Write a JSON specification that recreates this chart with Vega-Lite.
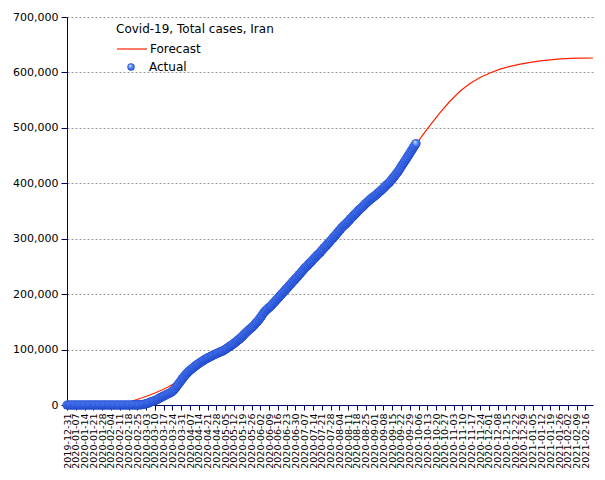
{
"$schema":"https://vega.github.io/schema/vega-lite/v6.json",
"width":526,"height":388,
"autosize":{"type":"none"},
"padding":{"left":67,"top":17,"right":12,"bottom":75},
"background":"white",
"config":{"view":{"stroke":null},"font":"DejaVu Sans"},
"datasets":{
"actual":[
{"d":"2019-12-31","v":0},{"d":"2020-01-01","v":0},{"d":"2020-01-02","v":0},{"d":"2020-01-03","v":0},{"d":"2020-01-04","v":0},{"d":"2020-01-05","v":0},{"d":"2020-01-06","v":0},{"d":"2020-01-07","v":0},{"d":"2020-01-08","v":0},{"d":"2020-01-09","v":0},{"d":"2020-01-10","v":0},{"d":"2020-01-11","v":0},{"d":"2020-01-12","v":0},{"d":"2020-01-13","v":0},{"d":"2020-01-14","v":0},{"d":"2020-01-15","v":0},{"d":"2020-01-16","v":0},{"d":"2020-01-17","v":0},{"d":"2020-01-18","v":0},{"d":"2020-01-19","v":0},{"d":"2020-01-20","v":0},{"d":"2020-01-21","v":0},{"d":"2020-01-22","v":0},{"d":"2020-01-23","v":0},{"d":"2020-01-24","v":0},{"d":"2020-01-25","v":0},{"d":"2020-01-26","v":0},{"d":"2020-01-27","v":0},{"d":"2020-01-28","v":0},{"d":"2020-01-29","v":0},{"d":"2020-01-30","v":0},{"d":"2020-01-31","v":0},
{"d":"2020-02-01","v":0},{"d":"2020-02-02","v":0},{"d":"2020-02-03","v":0},{"d":"2020-02-04","v":0},{"d":"2020-02-05","v":0},{"d":"2020-02-06","v":0},{"d":"2020-02-07","v":0},{"d":"2020-02-08","v":0},{"d":"2020-02-09","v":0},{"d":"2020-02-10","v":0},{"d":"2020-02-11","v":0},{"d":"2020-02-12","v":0},{"d":"2020-02-13","v":0},{"d":"2020-02-14","v":0},{"d":"2020-02-15","v":0},{"d":"2020-02-16","v":0},{"d":"2020-02-17","v":0},{"d":"2020-02-18","v":0},
{"d":"2020-02-19","v":2},{"d":"2020-02-20","v":5},{"d":"2020-02-21","v":18},{"d":"2020-02-22","v":28},{"d":"2020-02-23","v":43},{"d":"2020-02-24","v":61},{"d":"2020-02-25","v":95},{"d":"2020-02-26","v":139},{"d":"2020-02-27","v":245},{"d":"2020-02-28","v":388},{"d":"2020-02-29","v":593},
{"d":"2020-03-01","v":978},{"d":"2020-03-02","v":1501},{"d":"2020-03-03","v":2336},{"d":"2020-03-04","v":2922},{"d":"2020-03-05","v":3513},{"d":"2020-03-06","v":4747},{"d":"2020-03-07","v":5823},{"d":"2020-03-08","v":6566},{"d":"2020-03-09","v":7161},{"d":"2020-03-10","v":8042},{"d":"2020-03-11","v":9000},{"d":"2020-03-12","v":10075},{"d":"2020-03-13","v":11364},{"d":"2020-03-14","v":12729},{"d":"2020-03-15","v":13938},{"d":"2020-03-16","v":14991},{"d":"2020-03-17","v":16169},{"d":"2020-03-18","v":17361},{"d":"2020-03-19","v":18407},{"d":"2020-03-20","v":19644},{"d":"2020-03-21","v":20610},{"d":"2020-03-22","v":21638},{"d":"2020-03-23","v":23049},{"d":"2020-03-24","v":24811},{"d":"2020-03-25","v":27017},{"d":"2020-03-26","v":29406},{"d":"2020-03-27","v":32332},{"d":"2020-03-28","v":35408},{"d":"2020-03-29","v":38309},{"d":"2020-03-30","v":41495},{"d":"2020-03-31","v":44605},
{"d":"2020-04-01","v":47593},{"d":"2020-04-02","v":50468},{"d":"2020-04-03","v":53183},{"d":"2020-04-04","v":55743},{"d":"2020-04-05","v":58226},{"d":"2020-04-06","v":60500},{"d":"2020-04-07","v":62589},{"d":"2020-04-08","v":64586},{"d":"2020-04-09","v":66220},{"d":"2020-04-10","v":68192},{"d":"2020-04-11","v":70029},{"d":"2020-04-12","v":71686},{"d":"2020-04-13","v":73303},{"d":"2020-04-14","v":74877},{"d":"2020-04-15","v":76389},{"d":"2020-04-16","v":77995},{"d":"2020-04-17","v":79494},{"d":"2020-04-18","v":80868},{"d":"2020-04-19","v":82211},{"d":"2020-04-20","v":83505},{"d":"2020-04-21","v":84802},{"d":"2020-04-22","v":85996},{"d":"2020-04-23","v":87026},{"d":"2020-04-24","v":88194},{"d":"2020-04-25","v":89328},{"d":"2020-04-26","v":90481},{"d":"2020-04-27","v":91472},{"d":"2020-04-28","v":92584},{"d":"2020-04-29","v":93657},{"d":"2020-04-30","v":94640},
{"d":"2020-05-01","v":95646},{"d":"2020-05-02","v":96448},{"d":"2020-05-03","v":97424},{"d":"2020-05-04","v":98647},{"d":"2020-05-05","v":99970},{"d":"2020-05-06","v":101650},{"d":"2020-05-07","v":103135},{"d":"2020-05-08","v":104691},{"d":"2020-05-09","v":106220},{"d":"2020-05-10","v":107603},{"d":"2020-05-11","v":109286},{"d":"2020-05-12","v":110767},{"d":"2020-05-13","v":112725},{"d":"2020-05-14","v":114533},{"d":"2020-05-15","v":116635},{"d":"2020-05-16","v":118392},{"d":"2020-05-17","v":120198},{"d":"2020-05-18","v":122492},{"d":"2020-05-19","v":124603},{"d":"2020-05-20","v":126949},{"d":"2020-05-21","v":129341},{"d":"2020-05-22","v":131652},{"d":"2020-05-23","v":133521},{"d":"2020-05-24","v":135701},{"d":"2020-05-25","v":137724},{"d":"2020-05-26","v":139511},{"d":"2020-05-27","v":141591},{"d":"2020-05-28","v":143849},{"d":"2020-05-29","v":146668},{"d":"2020-05-30","v":148950},{"d":"2020-05-31","v":151466},
{"d":"2020-06-01","v":154445},{"d":"2020-06-02","v":157562},{"d":"2020-06-03","v":160696},{"d":"2020-06-04","v":164270},{"d":"2020-06-05","v":167156},{"d":"2020-06-06","v":169425},{"d":"2020-06-07","v":171789},{"d":"2020-06-08","v":173832},{"d":"2020-06-09","v":175927},{"d":"2020-06-10","v":177938},{"d":"2020-06-11","v":180156},{"d":"2020-06-12","v":182525},{"d":"2020-06-13","v":184955},{"d":"2020-06-14","v":187427},{"d":"2020-06-15","v":189876},{"d":"2020-06-16","v":192439},{"d":"2020-06-17","v":195051},{"d":"2020-06-18","v":197647},{"d":"2020-06-19","v":200262},{"d":"2020-06-20","v":202584},{"d":"2020-06-21","v":204952},{"d":"2020-06-22","v":207525},{"d":"2020-06-23","v":209970},{"d":"2020-06-24","v":212501},{"d":"2020-06-25","v":215096},{"d":"2020-06-26","v":217724},{"d":"2020-06-27","v":220180},{"d":"2020-06-28","v":222669},{"d":"2020-06-29","v":225205},{"d":"2020-06-30","v":227662},
{"d":"2020-07-01","v":230211},{"d":"2020-07-02","v":232863},{"d":"2020-07-03","v":235429},{"d":"2020-07-04","v":237878},{"d":"2020-07-05","v":240438},{"d":"2020-07-06","v":243051},{"d":"2020-07-07","v":245688},{"d":"2020-07-08","v":248379},{"d":"2020-07-09","v":250458},{"d":"2020-07-10","v":252720},{"d":"2020-07-11","v":255117},{"d":"2020-07-12","v":257303},{"d":"2020-07-13","v":259652},{"d":"2020-07-14","v":262173},{"d":"2020-07-15","v":264561},{"d":"2020-07-16","v":267061},{"d":"2020-07-17","v":269440},{"d":"2020-07-18","v":271606},{"d":"2020-07-19","v":273788},{"d":"2020-07-20","v":276202},{"d":"2020-07-21","v":278827},{"d":"2020-07-22","v":281413},{"d":"2020-07-23","v":284034},{"d":"2020-07-24","v":286523},{"d":"2020-07-25","v":288839},{"d":"2020-07-26","v":291172},{"d":"2020-07-27","v":293606},{"d":"2020-07-28","v":296273},{"d":"2020-07-29","v":298909},{"d":"2020-07-30","v":301530},{"d":"2020-07-31","v":304204},
{"d":"2020-08-01","v":306752},{"d":"2020-08-02","v":309437},{"d":"2020-08-03","v":312035},{"d":"2020-08-04","v":314786},{"d":"2020-08-05","v":317483},{"d":"2020-08-06","v":320117},{"d":"2020-08-07","v":322567},{"d":"2020-08-08","v":324692},{"d":"2020-08-09","v":326712},{"d":"2020-08-10","v":328844},{"d":"2020-08-11","v":331189},{"d":"2020-08-12","v":333699},{"d":"2020-08-13","v":336324},{"d":"2020-08-14","v":338825},{"d":"2020-08-15","v":341070},{"d":"2020-08-16","v":343203},{"d":"2020-08-17","v":345450},{"d":"2020-08-18","v":347835},{"d":"2020-08-19","v":350279},{"d":"2020-08-20","v":352558},{"d":"2020-08-21","v":354764},{"d":"2020-08-22","v":356792},{"d":"2020-08-23","v":358905},{"d":"2020-08-24","v":361150},{"d":"2020-08-25","v":363363},{"d":"2020-08-26","v":365606},{"d":"2020-08-27","v":367796},{"d":"2020-08-28","v":369911},{"d":"2020-08-29","v":371816},{"d":"2020-08-30","v":373570},{"d":"2020-08-31","v":375212},
{"d":"2020-09-01","v":376894},{"d":"2020-09-02","v":378752},{"d":"2020-09-03","v":380746},{"d":"2020-09-04","v":382772},{"d":"2020-09-05","v":384666},{"d":"2020-09-06","v":386658},{"d":"2020-09-07","v":388810},{"d":"2020-09-08","v":391112},{"d":"2020-09-09","v":393425},{"d":"2020-09-10","v":395488},{"d":"2020-09-11","v":397801},{"d":"2020-09-12","v":399940},{"d":"2020-09-13","v":402029},{"d":"2020-09-14","v":404648},{"d":"2020-09-15","v":407353},{"d":"2020-09-16","v":410334},{"d":"2020-09-17","v":413149},{"d":"2020-09-18","v":416198},{"d":"2020-09-19","v":419043},{"d":"2020-09-20","v":422140},{"d":"2020-09-21","v":425481},{"d":"2020-09-22","v":429193},{"d":"2020-09-23","v":432798},{"d":"2020-09-24","v":436319},{"d":"2020-09-25","v":439882},{"d":"2020-09-26","v":443086},{"d":"2020-09-27","v":446448},{"d":"2020-09-28","v":449960},{"d":"2020-09-29","v":453637},{"d":"2020-09-30","v":457219},
{"d":"2020-10-01","v":461044},{"d":"2020-10-02","v":464596},{"d":"2020-10-03","v":468119},{"d":"2020-10-04","v":471772}
],
"forecast":[
{"d":"2020-02-21","v":7000},{"d":"2020-02-24","v":9500},{"d":"2020-02-29","v":13000},{"d":"2020-03-06","v":18000},{"d":"2020-03-11","v":22500},{"d":"2020-03-16","v":27500},{"d":"2020-03-20","v":32000},{"d":"2020-03-24","v":37000},{"d":"2020-03-28","v":42000},{"d":"2020-04-01","v":49000},{"d":"2020-04-07","v":63000},{"d":"2020-04-14","v":76000},{"d":"2020-04-21","v":86000},{"d":"2020-04-28","v":93000},{"d":"2020-05-05","v":101000},{"d":"2020-05-12","v":111000},{"d":"2020-05-19","v":125000},{"d":"2020-05-26","v":140000},{"d":"2020-06-02","v":157000},{"d":"2020-06-09","v":176000},{"d":"2020-06-16","v":192000},{"d":"2020-06-23","v":210000},{"d":"2020-06-30","v":228000},{"d":"2020-07-07","v":245000},{"d":"2020-07-14","v":262000},{"d":"2020-07-21","v":279000},{"d":"2020-07-28","v":296000},{"d":"2020-08-04","v":314000},{"d":"2020-08-11","v":331000},{"d":"2020-08-18","v":348000},{"d":"2020-08-25","v":363000},{"d":"2020-09-01","v":377000},{"d":"2020-09-08","v":391000},{"d":"2020-09-15","v":407000},{"d":"2020-09-22","v":429000},{"d":"2020-09-29","v":452000},{"d":"2020-10-04","v":470000},{"d":"2020-10-09","v":486000},{"d":"2020-10-15","v":504000},{"d":"2020-10-23","v":527000},{"d":"2020-10-31","v":548000},{"d":"2020-11-08","v":566000},{"d":"2020-11-16","v":580000},{"d":"2020-11-24","v":591000},{"d":"2020-12-02","v":599000},{"d":"2020-12-10","v":606000},{"d":"2020-12-18","v":611000},{"d":"2020-12-26","v":615000},{"d":"2021-01-03","v":618300},{"d":"2021-01-11","v":620800},{"d":"2021-01-19","v":622800},{"d":"2021-01-27","v":624300},{"d":"2021-02-04","v":625200},{"d":"2021-02-12","v":625700},{"d":"2021-02-22","v":626000}
]
},
"encoding":{
"x":{"field":"d","type":"temporal","title":null,
 "scale":{"type":"utc","domain":[{"year":2019,"month":12,"date":31,"utc":true},{"year":2021,"month":2,"date":22,"utc":true}]},
 "axis":{"format":"%Y-%m-%d","labelAngle":-90,"labelFont":"DejaVu Sans","labelFontSize":9.5,"labelColor":"#000","labelPadding":3,"tickSize":5,"grid":false,"domainColor":"#000066","tickColor":"#000066","labelOverlap":false,"labelFlush":false,"labelBound":false,
 "values":[{"year":2019,"month":12,"date":31,"utc":true},{"year":2020,"month":1,"date":7,"utc":true},{"year":2020,"month":1,"date":14,"utc":true},{"year":2020,"month":1,"date":21,"utc":true},{"year":2020,"month":1,"date":28,"utc":true},{"year":2020,"month":2,"date":4,"utc":true},{"year":2020,"month":2,"date":11,"utc":true},{"year":2020,"month":2,"date":18,"utc":true},{"year":2020,"month":2,"date":25,"utc":true},{"year":2020,"month":3,"date":3,"utc":true},{"year":2020,"month":3,"date":10,"utc":true},{"year":2020,"month":3,"date":17,"utc":true},{"year":2020,"month":3,"date":24,"utc":true},{"year":2020,"month":3,"date":31,"utc":true},{"year":2020,"month":4,"date":7,"utc":true},{"year":2020,"month":4,"date":14,"utc":true},{"year":2020,"month":4,"date":21,"utc":true},{"year":2020,"month":4,"date":28,"utc":true},{"year":2020,"month":5,"date":5,"utc":true},{"year":2020,"month":5,"date":12,"utc":true},{"year":2020,"month":5,"date":19,"utc":true},{"year":2020,"month":5,"date":26,"utc":true},{"year":2020,"month":6,"date":2,"utc":true},{"year":2020,"month":6,"date":9,"utc":true},{"year":2020,"month":6,"date":16,"utc":true},{"year":2020,"month":6,"date":23,"utc":true},{"year":2020,"month":6,"date":30,"utc":true},{"year":2020,"month":7,"date":7,"utc":true},{"year":2020,"month":7,"date":14,"utc":true},{"year":2020,"month":7,"date":21,"utc":true},{"year":2020,"month":7,"date":28,"utc":true},{"year":2020,"month":8,"date":4,"utc":true},{"year":2020,"month":8,"date":11,"utc":true},{"year":2020,"month":8,"date":18,"utc":true},{"year":2020,"month":8,"date":25,"utc":true},{"year":2020,"month":9,"date":1,"utc":true},{"year":2020,"month":9,"date":8,"utc":true},{"year":2020,"month":9,"date":15,"utc":true},{"year":2020,"month":9,"date":22,"utc":true},{"year":2020,"month":9,"date":29,"utc":true},{"year":2020,"month":10,"date":6,"utc":true},{"year":2020,"month":10,"date":13,"utc":true},{"year":2020,"month":10,"date":20,"utc":true},{"year":2020,"month":10,"date":27,"utc":true},{"year":2020,"month":11,"date":3,"utc":true},{"year":2020,"month":11,"date":10,"utc":true},{"year":2020,"month":11,"date":17,"utc":true},{"year":2020,"month":11,"date":24,"utc":true},{"year":2020,"month":12,"date":1,"utc":true},{"year":2020,"month":12,"date":8,"utc":true},{"year":2020,"month":12,"date":15,"utc":true},{"year":2020,"month":12,"date":22,"utc":true},{"year":2020,"month":12,"date":29,"utc":true},{"year":2021,"month":1,"date":5,"utc":true},{"year":2021,"month":1,"date":12,"utc":true},{"year":2021,"month":1,"date":19,"utc":true},{"year":2021,"month":1,"date":26,"utc":true},{"year":2021,"month":2,"date":2,"utc":true},{"year":2021,"month":2,"date":9,"utc":true},{"year":2021,"month":2,"date":16,"utc":true}]}},
"y":{"field":"v","type":"quantitative","title":null,
 "scale":{"domain":[0,700000],"nice":false,"zero":true},
 "axis":{"values":[0,100000,200000,300000,400000,500000,600000,700000],"format":",d","grid":true,"gridColor":"#999999","gridDash":[2,2],"gridWidth":1,"domainColor":"#000066","tickColor":"#000066","tickSize":6,"labelPadding":3,"labelFont":"DejaVu Sans","labelFontSize":11,"labelColor":"#000"}}
},
"layer":[
{"data":{"name":"forecast"},
 "mark":{"type":"line","strokeWidth":1.2,"clip":false},
 "encoding":{"color":{"datum":"Forecast","scale":{"range":["#ff2200"]},
   "legend":{"orient":"none","legendX":49,"legendY":7,"padding":0,"title":"Covid-19, Total cases, Iran","titleFont":"DejaVu Sans","titleFontSize":12,"titleFontWeight":"normal","titleColor":"#000","titlePadding":-3,"symbolType":"stroke","symbolSize":900,"symbolStrokeWidth":1.2,"labelFont":"DejaVu Sans","labelFontSize":12,"labelColor":"#000","labelOffset":2}}}},
{"data":{"name":"actual"},
 "mark":{"type":"point","filled":true,"size":85,"opacity":1,"strokeWidth":0,
   "fill":{"gradient":"radial","x1":0.38,"y1":0.32,"r1":0,"x2":0.5,"y2":0.5,"r2":0.55,"stops":[{"offset":0,"color":"#eef4ff"},{"offset":0.3,"color":"#7aa4ff"},{"offset":0.7,"color":"#3566ec"},{"offset":1,"color":"#1538b0"}]}},
 "encoding":{"shape":{"datum":"Actual","scale":{"range":["circle"]},
   "legend":{"orient":"none","legendX":58,"legendY":44,"padding":0,"title":null,"symbolSize":55,"symbolStrokeWidth":0,"labelFont":"DejaVu Sans","labelFontSize":12,"labelColor":"#000","labelOffset":12,
     "encode":{"symbols":{"update":{"fill":{"value":{"gradient":"radial","x1":0.38,"y1":0.32,"r1":0,"x2":0.5,"y2":0.5,"r2":0.55,"stops":[{"offset":0,"color":"#eef4ff"},{"offset":0.3,"color":"#7aa4ff"},{"offset":0.7,"color":"#3566ec"},{"offset":1,"color":"#1538b0"}]}},"opacity":{"value":1}}}}}}}}
]
}
